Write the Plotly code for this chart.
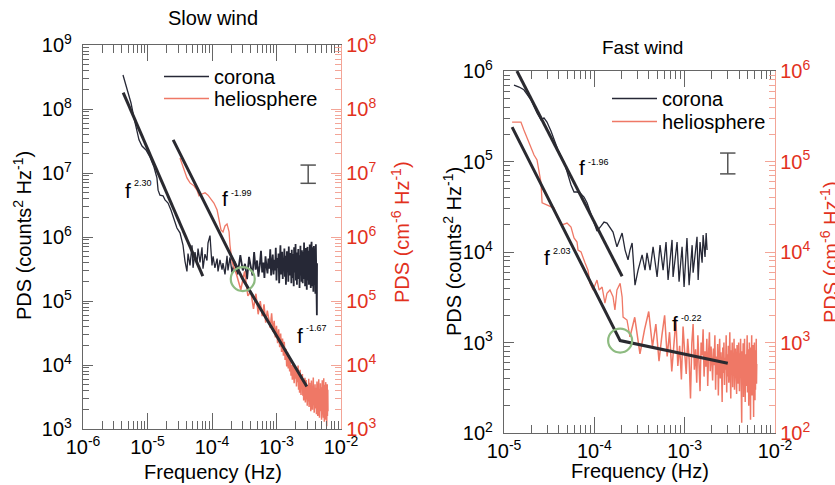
import plotly.graph_objects as go

W, H = 835, 485
FONT = "Liberation Sans, Arial, Helvetica, sans-serif"

# ---------------- Slow wind ----------------
slow_corona_f_lo = [4.17e-6, 4.81e-6, 5.55e-6, 6.18e-6, 6.87e-6, 7.38e-6, 8.22e-6, 9.48e-6, 1.09e-5, 1.26e-5,
                    1.40e-5, 1.46e-5, 1.56e-5, 1.74e-5, 1.87e-5, 2.08e-5, 2.31e-5, 2.58e-5, 2.86e-5, 3.19e-5,
                    3.55e-5,
                    3.81e-5, 4.09e-5, 4.25e-5, 4.56e-5, 4.90e-5, 5.08e-5, 5.45e-5, 5.85e-5, 6.07e-5, 6.52e-5,
                    7.00e-5, 7.25e-5, 7.79e-5, 8.36e-5, 8.67e-5, 9.31e-5, 1.00e-4, 1.04e-4, 1.11e-4, 1.20e-4,
                    1.24e-4, 1.33e-4, 1.43e-4, 1.48e-4, 1.59e-4, 1.71e-4, 1.77e-4, 1.90e-4, 2.04e-4]
slow_corona_p_lo = [3.4e8, 1.98e8, 1.24e8, 7.2e7, 4.4e7, 3.3e7, 2.64e7, 2.29e7, 1.78e7, 1.24e7,
                    8.4e6, 5.4e6, 4.5e6, 4.4e6, 3.8e6, 3.4e6, 2.64e6, 1.84e6, 1.38e6, 1.16e6,
                    7.5e5,
                    4.2e5, 2.9e5, 5.5e5, 3.6e5, 7.4e5, 3.3e5, 5.8e5, 3.8e5, 6.6e5, 4.0e5,
                    6.9e5, 3.2e5, 5.4e5, 4.3e5, 8.0e5, 1.05e6, 3.6e5, 5.0e5, 3.3e5, 4.6e5,
                    2.9e5, 4.4e5, 3.1e5, 3.9e5, 2.6e5, 5.1e5, 3.0e5, 4.8e5, 2.8e5]
slow_corona_df = 2.5e-5
slow_corona_k0 = 9
slow_corona_p_hi = [
    4.1e5, 2.6e5, 5.2e5, 3.0e5, 3.8e5, 2.2e5, 4.9e5, 3.4e5, 2.5e5, 5.8e5,
    3.1e5, 4.3e5, 2.4e5, 3.6e5, 6.1e5, 2.8e5, 4.0e5, 2.3e5, 5.0e5, 3.5e5,
    2.7e5, 4.6e5, 3.2e5, 6.4e5, 2.5e5, 3.9e5, 5.3e5, 2.6e5, 4.4e5, 3.0e5,
    6.8e5, 2.1e5, 4.7e5, 3.3e5, 5.5e5, 1.9e5, 4.2e5, 7.4e5, 2.6e5, 3.8e5,
    5.9e5, 2.2e5, 4.5e5, 3.1e5, 6.6e5, 2.4e5, 5.1e5, 1.8e5, 3.7e5, 6.0e5,
    2.9e5, 4.8e5, 2.0e5, 7.1e5, 3.4e5, 2.5e5, 5.6e5, 3.0e5, 4.1e5, 1.9e5,
    6.3e5, 3.6e5,
    2.3e5, 5.4e5, 3.8e5, 1.7e5, 6.9e5, 2.8e5, 4.4e5, 3.2e5, 7.8e5, 2.1e5,
    4.9e5, 3.5e5, 1.8e5, 5.7e5, 2.6e5, 4.0e5, 6.5e5, 2.2e5, 3.9e5, 5.2e5,
    1.6e5, 4.6e5, 3.0e5, 7.3e5, 2.5e5, 3.7e5, 5.0e5, 2.0e5, 6.2e5, 3.3e5,
    4.3e5, 1.9e5,
    5.8e5, 2.7e5, 4.5e5, 3.1e5, 8.2e5, 2.2e5, 3.6e5, 5.5e5, 1.7e5, 4.8e5,
    2.9e5, 6.7e5, 2.4e5, 4.1e5, 3.4e5, 1.5e5, 5.9e5, 3.0e5, 7.0e5, 2.1e5,
    4.6e5, 3.7e5, 2.6e5, 6.1e5, 1.8e5, 4.2e5, 5.3e5, 2.3e5, 7.6e5, 3.2e5,
    2.0e5, 4.9e5,
    3.5e5, 1.6e5, 6.4e5, 2.8e5, 4.4e5, 8.4e5, 2.2e5, 3.8e5, 5.6e5, 1.7e5,
    4.0e5, 2.5e5, 6.9e5, 3.1e5, 1.4e5, 5.1e5, 2.9e5, 7.2e5, 2.0e5, 4.7e5,
    3.3e5, 1.8e5, 6.0e5, 2.6e5, 4.3e5, 1.3e5, 5.4e5, 3.6e5, 7.7e5, 2.1e5,
    4.1e5, 1.2e5, 5.8e5, 2.7e5, 0.6e5, 3.9e5]

slow_helio_f_lo = [3.19e-5, 3.68e-5, 4.09e-5, 4.56e-5, 5.26e-5, 5.85e-5, 6.28e-5, 7.00e-5, 7.79e-5, 8.67e-5,
                   9.64e-5, 1.07e-4, 1.20e-4, 1.29e-4, 1.38e-4, 1.48e-4, 1.59e-4, 1.71e-4, 1.84e-4, 1.90e-4,
                   2.04e-4]
slow_helio_p_lo = [1.71e7, 1.11e7, 8.4e6, 7.0e6, 6.3e6, 5.4e6, 4.4e6, 4.7e6, 4.9e6, 4.5e6,
                   3.9e6, 3.4e6, 2.64e6, 1.84e6, 1.29e6, 1.2e6, 1.49e6, 1.6e6, 1.2e6, 7.5e5,
                   4.1e5]
slow_helio_df = 4e-5
slow_helio_k0 = 6
slow_helio_p_hi = [
    2.6e5, 1.5e5, 2.9e5, 1.2e5, 1.4e5,
    7.5e4, 1.3e5, 6.2e4, 1.0e5, 5.8e4,
    8.9e4, 4.6e4, 7.1e4, 5.2e4, 3.8e4,
    6.4e4, 3.3e4, 4.9e4, 2.7e4, 4.1e4,
    2.2e4, 3.6e4, 1.9e4, 3.1e4, 1.6e4, 2.6e4, 1.4e4,
    2.3e4, 1.2e4, 1.8e4, 9.5e3, 1.6e4, 8.8e3, 1.3e4, 7.9e3,
    1.2e4, 6.8e3, 1.0e4, 5.9e3, 1.1e4, 7.4e3, 5.2e3, 9.6e3, 6.1e3, 8.3e3,
    4.6e3, 7.9e3, 5.4e3, 9.8e3, 4.1e3, 6.6e3, 3.7e3, 8.4e3, 5.0e3, 3.4e3, 6.9e3, 4.4e3,
    7.2e3, 3.3e3, 5.5e3, 2.8e3, 4.9e3, 3.9e3, 6.3e3, 2.6e3, 4.2e3, 5.8e3, 2.9e3, 3.6e3, 2.3e3,
    4.8e3, 2.7e3, 3.9e3, 6.1e3, 2.2e3, 3.4e3, 5.3e3, 2.5e3, 4.3e3, 1.9e3, 3.7e3, 5.7e3, 2.8e3,
    3.2e3, 2.0e3, 4.6e3, 3.0e3, 6.4e3, 2.4e3, 3.5e3, 1.8e3, 4.1e3, 2.9e3, 5.0e3, 2.6e3,
    3.8e3, 2.1e3, 4.4e3, 1.7e3, 3.1e3, 5.5e3, 2.3e3, 3.6e3, 1.6e3, 4.7e3, 2.7e3, 3.3e3, 6.0e3,
    2.0e3, 3.9e3, 1.5e3, 2.9e3, 4.2e3, 2.2e3, 5.2e3, 1.9e3, 3.4e3, 2.5e3, 4.5e3, 1.4e3,
    3.2e3, 2.4e3, 5.8e3, 1.8e3, 3.7e3, 2.1e3, 4.3e3, 1.5e3, 2.8e3, 6.2e3, 2.0e3, 3.5e3, 1.3e3,
    4.0e3, 2.6e3, 4.9e3, 1.7e3, 3.0e3, 2.2e3, 5.4e3, 1.4e3, 3.3e3, 2.5e3, 4.6e3, 1.1e3, 3.8e3,
    2.3e3, 5.0e3, 1.6e3, 2.9e3, 4.1e3, 1.9e3]

slow_fit_corona_f = [4.2e-6, 7.2e-5]
slow_fit_corona_p = [1.8e8, 2.45e5]
slow_fit_helio_f = [2.5e-5, 3.0e-4, 2.95e-3]
slow_fit_helio_p = [3.3e7, 2.2e5, 4.6e3]
slow_break_f = [3.0e-4]
slow_break_p = [2.2e5]
slow_err_f = [3.1e-3, 3.1e-3]
slow_err_p = [6.9e6, 1.33e7]

# ---------------- Fast wind ----------------
fast_corona_f = [1.29e-5, 1.47e-5, 1.66e-5, 1.99e-5, 2.32e-5, 2.57e-5, 2.77e-5, 2.99e-5, 3.31e-5, 3.58e-5,
                 3.96e-5, 4.28e-5, 4.61e-5, 4.99e-5, 5.52e-5, 5.96e-5, 6.43e-5, 6.94e-5, 7.69e-5, 8.30e-5,
                 8.96e-5, 9.93e-5, 1.07e-4,
                 1.19e-4, 1.28e-4, 1.38e-4, 1.49e-4, 1.61e-4, 1.78e-4, 1.93e-4, 2.03e-4, 2.19e-4, 2.36e-4,
                 2.48e-4, 2.62e-4, 2.82e-4, 3.05e-4, 3.38e-4, 3.64e-4, 3.83e-4, 4.14e-4, 4.47e-4, 4.95e-4,
                 5.34e-4, 5.77e-4, 6.22e-4, 6.55e-4, 7.25e-4, 7.44e-4, 8.24e-4, 8.67e-4, 9.36e-4, 9.85e-4,
                 1.06e-3, 1.12e-3, 1.21e-3, 1.24e-3, 1.37e-3, 1.41e-3, 1.48e-3, 1.56e-3, 1.60e-3, 1.68e-3,
                 1.73e-3, 1.77e-3]
fast_corona_p = [7.0e5, 6.65e5, 6.2e5, 4.8e5, 3.44e5, 2.88e5, 3.03e5, 2.73e5, 2.17e5, 1.73e5,
                 1.34e5, 1.15e5, 9.9e4, 7.7e4, 5.5e4, 4.6e4, 4.6e4, 4.5e4, 4.05e4, 3.5e4,
                 2.77e4, 2.14e4, 1.7e4,
                 1.94e4, 2.14e4, 2.09e4, 1.89e4, 1.66e4, 1.14e4, 1.43e4, 1.62e4, 1.05e4, 8.2e3,
                 1.05e4, 1.26e4, 4.3e3, 6.3e3, 9.3e3, 6.3e3, 9.8e3, 6.3e3, 1.14e4, 5.3e3,
                 1.19e4, 6.3e3, 1.29e4, 4.9e3, 1.36e4, 5.3e3, 1.29e4, 4.7e3, 1.14e4, 4.1e3,
                 1.43e4, 4.3e3, 1.19e4, 5.9e3, 1.47e4, 4.9e3, 1.29e4, 7.6e3, 1.54e4, 8.8e3,
                 1.62e4, 1.05e4]

fast_helio_f_lo = [1.23e-5, 1.54e-5, 1.66e-5, 1.89e-5, 2.15e-5, 2.32e-5, 2.57e-5, 2.64e-5, 2.99e-5, 3.58e-5,
                   3.86e-5, 4.39e-5, 4.99e-5, 5.52e-5, 5.96e-5, 6.43e-5, 6.60e-5, 7.13e-5, 7.88e-5, 8.51e-5,
                   8.96e-5, 9.68e-5, 1.07e-4, 1.13e-4, 1.22e-4, 1.31e-4, 1.38e-4, 1.49e-4, 1.61e-4, 1.69e-4,
                   1.78e-4, 1.93e-4, 2.03e-4, 2.08e-4, 2.30e-4, 2.48e-4]
fast_helio_p_lo = [2.73e5, 2.73e5, 2.23e5, 1.6e5, 1.18e5, 1.04e5, 5.8e4, 3.5e4, 3.3e4, 3.06e4,
                   2.44e4, 1.99e4, 2.09e4, 1.89e4, 1.43e4, 1.29e4, 1.05e4, 1.0e4, 7.6e3, 6.3e3,
                   4.5e3, 3.8e3, 4.9e3, 3.8e3, 4.1e3, 2.73e3, 3.5e3, 3.8e3, 3.2e3, 2.29e3,
                   3.8e3, 4.5e3, 3.2e3, 1.91e3, 1.77e3, 1.15e3]
fast_helio_df = 4e-5
fast_helio_k0 = 7
fast_helio_p_hi = [
    1.9e3, 7.5e2, 1.4e3, 2.2e3,
    9.0e2, 1.6e3, 6.2e2, 1.2e3, 2.0e3,
    7.0e2, 1.3e3, 4.8e2, 1.0e3, 1.8e3, 5.5e2, 9.2e2, 3.9e2, 1.5e3, 7.8e2,
    4.5e2, 1.1e3, 6.6e2, 2.4e2, 9.8e2, 1.6e3, 5.0e2, 8.4e2, 3.6e2, 1.2e3,
    6.0e2, 2.9e2, 1.0e3, 7.2e2, 1.4e3, 4.2e2, 8.0e2, 5.4e2, 1.1e3, 3.3e2,
    7.6e2, 1.3e3, 4.8e2, 9.0e2, 6.2e2,
    3.8e2, 8.6e2, 5.6e2, 1.2e3, 3.0e2, 7.0e2, 4.4e2, 9.6e2, 2.6e2, 6.4e2,
    1.1e3, 4.0e2, 7.8e2, 5.2e2, 2.2e2, 8.8e2, 4.6e2, 1.0e3, 3.4e2, 6.8e2,
    5.0e2, 1.2e3, 2.8e2, 7.4e2, 4.2e2, 9.2e2, 3.6e2, 6.0e2, 1.3e3, 4.4e2,
    2.4e2, 8.2e2, 5.4e2, 1.0e3, 3.2e2, 7.2e2, 4.8e2, 1.1e3, 3.0e2, 6.6e2,
    8.6e2, 3.8e2, 5.8e2, 2.7e2, 9.4e2, 4.6e2, 7.0e2, 3.5e2, 1.0e3, 5.2e2,
    2.9e2, 7.6e2, 4.3e2, 1.1e3, 3.1e2, 6.2e2, 1.3e2, 8.0e2, 4.0e2, 5.6e2,
    9.8e2, 2.5e2, 6.8e2, 3.7e2, 1.1e3, 4.5e2, 2.2e2, 7.4e2, 5.0e2, 3.3e2,
    9.0e2, 4.2e2, 1.2e3, 2.8e2, 6.4e2, 3.8e2, 8.4e2, 2.0e2, 5.4e2, 1.0e3,
    3.4e2, 7.0e2, 4.6e2, 1.4e2, 8.8e2, 3.9e2, 6.0e2, 1.2e3, 2.6e2, 5.2e2,
    7.8e2, 3.2e2, 9.4e2, 4.4e2, 1.5e2, 6.6e2, 3.6e2, 1.0e3, 4.8e2, 2.3e2,
    7.2e2, 3.0e2, 8.2e2, 4.1e2, 1.1e3, 3.5e2, 5.8e2]

fast_fit_corona_f = [1.39e-5, 2.03e-4]
fast_fit_corona_p = [1.0e6, 5.4e3]
fast_fit_helio_f = [1.23e-5, 1.93e-4, 3.0e-3]
fast_fit_helio_p = [2.4e5, 1.05e3, 5.9e2]
fast_break_f = [1.93e-4]
fast_break_p = [1.05e3]
fast_err_f = [3.0e-3, 3.0e-3]
fast_err_p = [7.3e4, 1.24e5]

# tick labels
slow_x_exp = [-6, -5, -4, -3, -2]
slow_y_exp = [3, 4, 5, 6, 7, 8, 9]
fast_x_exp = [-5, -4, -3, -2]
fast_y_exp = [2, 3, 4, 5, 6]

# ---------------- assemble series ----------------
slow_corona_f_hi = [slow_corona_df * (slow_corona_k0 + i) for i in range(len(slow_corona_p_hi))]
slow_helio_f_hi = [slow_helio_df * (slow_helio_k0 + i) for i in range(len(slow_helio_p_hi))]
fast_helio_f_hi = [fast_helio_df * (fast_helio_k0 + i) for i in range(len(fast_helio_p_hi))]

C_COR = "#262836"
C_HEL = "#ef7866"
C_FIT = "#2a2a30"
C_GRN = "#8dbb80"
C_AX = "#666666"
C_RAX = "#f3a597"
C_RTXT = "#e2311d"

fig = go.Figure()


def line_trace(f, p, color, width, xa, ya, name=None, leg=None):
    kw = dict(x=f, y=p, mode="lines", line=dict(color=color, width=width), xaxis=xa, yaxis=ya)
    if name:
        kw.update(name=name, legend=leg, showlegend=True)
    else:
        kw.update(showlegend=False)
    return go.Scatter(**kw)


def add_panel(xa, ya, ya2, cor_lo, cor_hi, hel_lo, hel_hi, fc, fh, br, er, leg_c, leg_h):
    fig.add_trace(line_trace(cor_lo[0], cor_lo[1], C_COR, 1.3, xa, ya, "corona", leg_c))
    if cor_hi is not None:
        fig.add_trace(line_trace([cor_lo[0][-1]] + cor_hi[0], [cor_lo[1][-1]] + cor_hi[1],
                                 C_COR, 1.8, xa, ya))
    fig.add_trace(line_trace(hel_lo[0], hel_lo[1], C_HEL, 1.3, xa, ya2, "heliosphere", leg_h))
    fig.add_trace(line_trace([hel_lo[0][-1]] + hel_hi[0], [hel_lo[1][-1]] + hel_hi[1],
                             C_HEL, 1.5, xa, ya2))
    fig.add_trace(line_trace(fc[0], fc[1], C_FIT, 3, xa, ya2))
    fig.add_trace(line_trace(fh[0], fh[1], C_FIT, 3, xa, ya2))
    fig.add_trace(go.Scatter(x=br[0], y=br[1], mode="markers", showlegend=False,
                             marker=dict(symbol="circle-open", size=24, color=C_GRN, line=dict(width=2.2)),
                             xaxis=xa, yaxis=ya2))
    fig.add_trace(go.Scatter(x=er[0], y=er[1], mode="lines+markers", showlegend=False,
                             line=dict(color="#555555", width=1.5),
                             marker=dict(symbol="line-ew", size=11, color="#555555",
                                         line=dict(width=1.5, color="#555555")),
                             xaxis=xa, yaxis=ya2))


add_panel("x", "y", "y2",
          (slow_corona_f_lo, slow_corona_p_lo), (slow_corona_f_hi, slow_corona_p_hi),
          (slow_helio_f_lo, slow_helio_p_lo), (slow_helio_f_hi, slow_helio_p_hi),
          (slow_fit_corona_f, slow_fit_corona_p), (slow_fit_helio_f, slow_fit_helio_p),
          (slow_break_f, slow_break_p), (slow_err_f, slow_err_p), "legend", "legend2")
add_panel("x2", "y3", "y4",
          (fast_corona_f, fast_corona_p), None,
          (fast_helio_f_lo, fast_helio_p_lo), (fast_helio_f_hi, fast_helio_p_hi),
          (fast_fit_corona_f, fast_fit_corona_p), (fast_fit_helio_f, fast_fit_helio_p),
          (fast_break_f, fast_break_p), (fast_err_f, fast_err_p), "legend3", "legend4")


def ticks(exps):
    vals = [10.0 ** e for e in exps]
    txt = ["10<sup>%d</sup>" % e for e in exps]
    minor = [m * 10.0 ** e for e in exps[:-1] for m in range(2, 10)]
    return vals, txt, minor


def xaxis(dom, exps, anchor):
    v, t, mn = ticks(exps)
    return dict(type="log", range=[exps[0], exps[-1]], domain=dom, anchor=anchor,
                automargin=False,
                showline=True, linecolor=C_AX, linewidth=1.3, mirror="ticks",
                ticks="inside", ticklen=16, tickwidth=1.2, tickcolor=C_AX,
                tickmode="array", tickvals=v, ticktext=t,
                tickfont=dict(family=FONT, size=20, color="black"),
                minor=dict(ticks="inside", ticklen=8, tickwidth=1, tickcolor=C_AX,
                           tickmode="array", tickvals=mn, showgrid=False),
                showgrid=False, zeroline=False)


def yaxis(dom, exps, anchor, right=False, over=None):
    v, t, mn = ticks(exps)
    col = C_RAX if right else C_AX
    d = dict(type="log", range=[exps[0], exps[-1]], anchor=anchor, automargin=False,
             showline=True, linecolor=col, linewidth=1.3,
             ticks="inside", ticklen=10, tickwidth=1.2, tickcolor=col,
             tickmode="array", tickvals=v, ticktext=t,
             tickfont=dict(family=FONT, size=20, color=C_RTXT if right else "black"),
             minor=dict(ticks="inside", ticklen=6, tickwidth=1, tickcolor=col,
                        tickmode="array", tickvals=mn, showgrid=False),
             showgrid=False, zeroline=False)
    if right:
        d.update(side="right", overlaying=over)
    else:
        d.update(domain=dom, ticklabelstandoff=6)
    return d


def ann(text, px, py, size, color="black", angle=0, xanchor="center", yanchor="middle"):
    return dict(text=text, x=px / W, y=1 - py / H, xref="paper", yref="paper",
                xanchor=xanchor, yanchor=yanchor, showarrow=False, textangle=angle,
                font=dict(family=FONT, size=size, color=color))


annotations = [
    ann("Slow wind", 213, 18, 20),
    ann("Fast wind", 642, 48, 19),
    ann("Frequency (Hz)", 213, 472, 20),
    ann("Frequency (Hz)", 640, 471, 20),
    ann("PDS (counts<sup>2</sup> Hz<sup>-1</sup>)", 22, 236, 20, angle=-90),
    ann("PDS (cm<sup>-6</sup> Hz<sup>-1</sup>)", 400, 232, 20, color=C_RTXT, angle=-90),
    ann("PDS (counts<sup>2</sup> Hz<sup>-1</sup>)", 452, 252, 20, angle=-90),
    ann("PDS (cm<sup>-6</sup> Hz<sup>-1</sup>)", 829, 252, 20, color=C_RTXT, angle=-90),
    # power-law labels
    ann("f", 128, 191, 21), ann("2.30", 132, 183, 9, xanchor="left"),
    ann("f", 225, 198, 21), ann("-1.99", 229, 193, 9, xanchor="left"),
    ann("f", 300, 335, 21), ann("-1.67", 304, 328, 9, xanchor="left"),
    ann("f", 582, 167, 21), ann("-1.96", 586, 162, 9, xanchor="left"),
    ann("f", 547, 257, 21), ann("2.03", 551, 251, 9, xanchor="left"),
    ann("f", 675, 323, 21), ann("-0.22", 679, 318, 9, xanchor="left"),
]

legend_common = dict(xanchor="left", yanchor="top", bgcolor="rgba(0,0,0,0)",
                     font=dict(family=FONT, size=20, color="black"), itemwidth=45,
                     tracegroupgap=0)

fig.update_layout(
    width=W, height=H, margin=dict(l=0, r=0, t=0, b=0, pad=0, autoexpand=False),
    paper_bgcolor="white", plot_bgcolor="white",
    xaxis=xaxis([83 / W, 341 / W], slow_x_exp, "y"),
    yaxis=yaxis([56 / H, 440 / H], slow_y_exp, "x"),
    yaxis2=yaxis(None, slow_y_exp, "x", right=True, over="y"),
    xaxis2=xaxis([504 / W, 775 / W], fast_x_exp, "y3"),
    yaxis3=yaxis([52 / H, 414 / H], fast_y_exp, "x2"),
    yaxis4=yaxis(None, fast_y_exp, "x2", right=True, over="y3"),
    legend=dict(x=159 / W, y=1 - 57 / H, **legend_common),
    legend2=dict(x=159 / W, y=1 - 79 / H, **legend_common),
    legend3=dict(x=607 / W, y=1 - 79 / H, **legend_common),
    legend4=dict(x=607 / W, y=1 - 102 / H, **legend_common),
    annotations=annotations,
    showlegend=True,
)

fig.write_html("out.html", config={"displayModeBar": False},
               post_script="document.body.style.margin='0px';")
